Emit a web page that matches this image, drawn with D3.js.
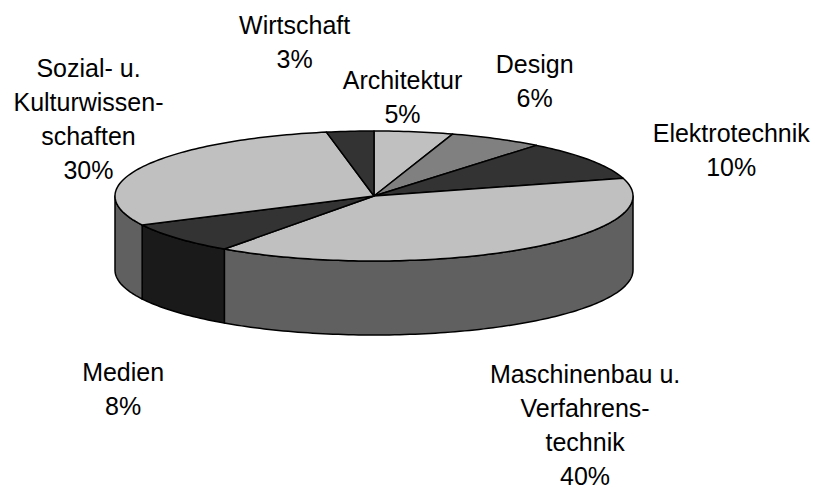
<!DOCTYPE html>
<html>
<head>
<meta charset="utf-8">
<script src="https://cdn.jsdelivr.net/npm/d3@7"></script>
<style>
  body { margin: 0; background: #fff; }
  svg { display: block; }
</style>
</head>
<body>
<div id="chart"></div>
<script>
// data
const categories = ['Architektur', 'Design', 'Elektrotechnik', 'Maschinenbau u. Verfahrenstechnik', 'Medien', 'Sozial- u. Kulturwissenschaften', 'Wirtschaft'];
const shares = [5, 6, 10, 40, 8, 30, 3];
const labelLines = [
  ['Architektur'],
  ['Design'],
  ['Elektrotechnik'],
  ['Maschinenbau u.', 'Verfahrens-', 'technik'],
  ['Medien'],
  ['Sozial- u.', 'Kulturwissen-', 'schaften'],
  ['Wirtschaft']
];

const topColors = ['#c0c0c0', '#808080', '#333333', '#c0c0c0', '#333333', '#c0c0c0', '#333333'];
// label nudges (dx, dy) from the default outside anchor
const labelNudge = [[-22, 25], [5, -5], [83, 23], [21, 53], [-1, 38], [9, -21], [-49, -30]];

const drawPie3D = () => {
  const width = 817;
  const height = 490;
  const cx = 374, cy = 196;
  const rx = 259, ry = 65;
  const depth = 74;
  const lineH = 34;

  const svg = d3.select('#chart')
    .append('svg')
    .attr('width', width)
    .attr('height', height);

  const data = categories.map((c, i) => ({name: c, value: shares[i], i: i}));
  const arcs = d3.pie().sort(null).value(d => d.value)(data);

  const pt = (a, dy = 0) => [cx + rx * Math.sin(a), cy - ry * Math.cos(a) + dy];
  const sample = (a0, a1, dy) => {
    const n = Math.max(2, Math.ceil((a1 - a0) / 0.02));
    return d3.range(n + 1).map(k => pt(a0 + (a1 - a0) * k / n, dy));
  };
  const line = d3.line();

  // side shade = half the top colour
  const shade = c => {
    const r = d3.rgb(c);
    return d3.rgb(r.r * 0.5, r.g * 0.5, r.b * 0.5).formatHex();
  };

  // sides - only the front half is visible
  const sides = svg.append('g');
  arcs.forEach(d => {
    const a0 = Math.max(d.startAngle, Math.PI / 2);
    const a1 = Math.min(d.endAngle, Math.PI * 1.5);
    if (a1 <= a0) return;
    const top = sample(a0, a1, 0);
    const bottom = sample(a0, a1, depth).reverse();
    sides.append('path')
      .attr('d', line(top.concat(bottom)) + 'Z')
      .attr('fill', shade(topColors[d.data.i]))
      .attr('stroke', '#000')
      .attr('stroke-width', 1.5)
      .attr('stroke-linejoin', 'round');
  });

  // top faces
  const tops = svg.append('g');
  arcs.forEach(d => {
    const pts = [[cx, cy]].concat(sample(d.startAngle, d.endAngle, 0));
    tops.append('path')
      .attr('d', line(pts) + 'Z')
      .attr('fill', topColors[d.data.i])
      .attr('stroke', '#000')
      .attr('stroke-width', 1.5)
      .attr('stroke-linejoin', 'round');
  });

  // labels
  const labels = svg.append('g')
    .attr('font-family', 'Liberation Sans, Arial, sans-serif')
    .attr('font-size', '25px')
    .attr('fill', '#000')
    .attr('text-anchor', 'middle');

  arcs.forEach(d => {
    const i = d.data.i;
    const mid = (d.startAngle + d.endAngle) / 2;
    const lx = cx + (rx + 70) * Math.sin(mid) + labelNudge[i][0];
    const ly = cy - (ry + 60) * Math.cos(mid) + (Math.cos(mid) < 0 ? depth : 0) + labelNudge[i][1];
    const lines = labelLines[i].concat([`${d.data.value}%`]);
    const t = labels.append('text');
    lines.forEach((s, k) => {
      t.append('tspan')
        .attr('x', lx)
        .attr('y', ly - (lines.length - 1) * lineH / 2 + k * lineH + 9)
        .text(s);
    });
  });
};

drawPie3D();
</script>
</body>
</html>
